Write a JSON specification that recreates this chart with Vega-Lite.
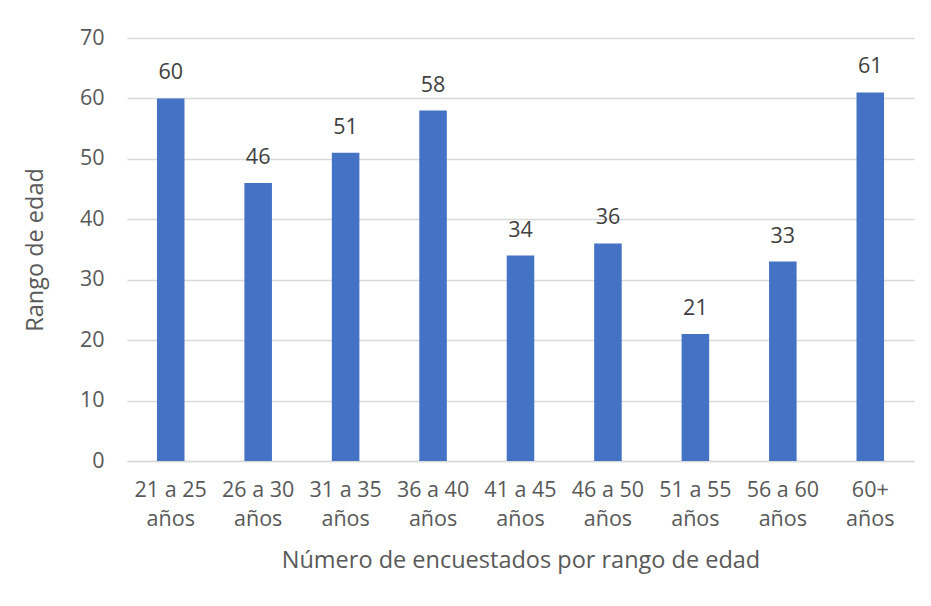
{
  "$schema": "https://vega.github.io/schema/vega-lite/v6.json",
  "autosize": "none",
  "width": 787,
  "height": 423,
  "padding": {"left": 127, "top": 38, "right": 17, "bottom": 145},
  "background": "white",
  "config": {
    "font": "Open Sans",
    "view": {"stroke": null},
    "axis": {
      "labelColor": "#595959",
      "titleColor": "#595959",
      "labelFontSize": 21.5,
      "titleFontSize": 23.5,
      "labelFont": "Open Sans",
      "titleFont": "Open Sans",
      "titleFontWeight": "normal",
      "gridColor": "#d9d9d9",
      "gridWidth": 1.3,
      "domain": false,
      "ticks": false
    }
  },
  "data": {
    "values": [
      {"rango": "21 a 25 años", "valor": 60},
      {"rango": "26 a 30 años", "valor": 46},
      {"rango": "31 a 35 años", "valor": 51},
      {"rango": "36 a 40 años", "valor": 58},
      {"rango": "41 a 45 años", "valor": 34},
      {"rango": "46 a 50 años", "valor": 36},
      {"rango": "51 a 55 años", "valor": 21},
      {"rango": "56 a 60 años", "valor": 33},
      {"rango": "60+ años", "valor": 61}
    ]
  },
  "encoding": {
    "x": {
      "field": "rango",
      "type": "nominal",
      "sort": null,
      "scale": {"paddingInner": 0.685, "paddingOuter": 0.3425},
      "axis": {
        "title": "Número de encuestados por rango de edad",
        "labelAngle": 0,
        "labelExpr": "[replace(datum.label, ' años', ''), 'años']",
        "labelLineHeight": 29,
        "labelPadding": 18,
        "labelBaseline": "top",
        "titleY": 99,
        "titleBaseline": "middle",
        "domain": true,
        "domainColor": "#d9d9d9",
        "domainWidth": 1.3
      }
    },
    "y": {
      "field": "valor",
      "type": "quantitative",
      "scale": {"domain": [0, 70]},
      "axis": {
        "title": "Rango de edad",
        "values": [0, 10, 20, 30, 40, 50, 60, 70],
        "labelPadding": 23,
        "titleX": -92,
        "titleY": 211.5,
        "titleAlign": "center",
        "titleBaseline": "middle",
        "titleAngle": -90
      }
    }
  },
  "layer": [
    {"mark": {"type": "bar", "color": "#4472c4"}},
    {
      "mark": {"type": "text", "baseline": "bottom", "dy": -14, "fontSize": 21.5, "color": "#404040", "font": "Open Sans"},
      "encoding": {"text": {"field": "valor", "type": "quantitative"}}
    }
  ]
}
